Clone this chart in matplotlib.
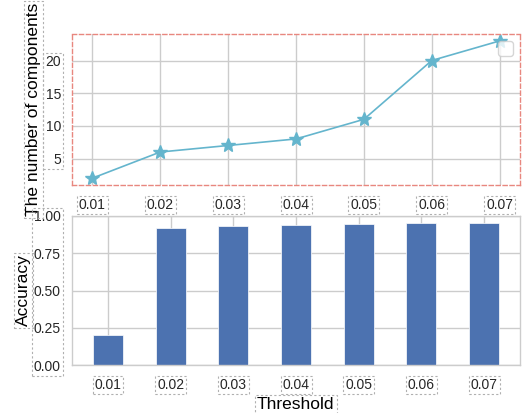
import matplotlib
matplotlib.use("Agg")
import matplotlib.pyplot as plt
from matplotlib.patches import Rectangle
from matplotlib.transforms import Bbox

thresholds = [0.01, 0.02, 0.03, 0.04, 0.05, 0.06, 0.07]
tick_labels = ["0.01", "0.02", "0.03", "0.04", "0.05", "0.06", "0.07"]
n_components = [2, 6, 7, 8, 11, 20, 23]
accuracy = [0.20, 0.92, 0.935, 0.94, 0.945, 0.95, 0.95]

plt.rcParams["font.family"] = ["Liberation Sans", "DejaVu Sans"]
plt.rcParams["text.color"] = "#262626"
plt.rcParams["xtick.color"] = "#262626"
plt.rcParams["ytick.color"] = "#262626"

fig = plt.figure(figsize=(5.26, 4.13), dpi=100)
ax1 = fig.add_axes([0.1369, 0.552, 0.8517, 0.3656])
ax2 = fig.add_axes([0.1369, 0.1162, 0.8508, 0.3608])

grid_kw = dict(color="#cccccc", linewidth=1.0)
for ax in (ax1, ax2):
    ax.set_axisbelow(True)
    ax.grid(True, **grid_kw)
    ax.tick_params(length=0, labelsize=10, pad=9)
    ax.tick_params(axis="y", pad=8)

# top: number of components
ax1.plot(thresholds, n_components, "*-", color="#64b5cd", markersize=10, linewidth=1.2)
ax1.set_xticks(thresholds)
ax1.set_xticklabels(tick_labels)
ax1.set_yticks([5, 10, 15, 20])
ax1.set_ylabel("The number of components", fontsize=12.5, labelpad=3)
for s in ax1.spines.values():
    s.set_color("#e8877f")
    s.set_linestyle((0, (3, 2)))
    s.set_linewidth(1.0)
ax1.legend(handles=[], loc="upper right", borderpad=0.55, edgecolor="#cccccc")

# bottom: accuracy bars
pos = list(range(len(thresholds)))
ax2.bar(pos, accuracy, width=0.48, color="#4c72b0", edgecolor="white", linewidth=0.5)
ax2.set_xlim(-0.575, 6.565)
ax2.set_ylim(0, 1.0)
ax2.set_xticks(pos)
ax2.set_xticklabels(tick_labels)
ax2.set_yticks([0, 0.25, 0.5, 0.75, 1.0])
ax2.set_yticklabels(["0.00", "0.25", "0.50", "0.75", "1.00"])
ax2.set_xlabel("Threshold", fontsize=12.5, labelpad=4)
ax2.set_ylabel("Accuracy", fontsize=12.5, labelpad=2)
for s in ax2.spines.values():
    s.set_color("#cccccc")
    s.set_linewidth(1.0)

# dashed boxes around text elements
fig.canvas.draw()
r = fig.canvas.get_renderer()


def box(bb, pad=2):
    fig.patches.append(Rectangle((bb.x0 - pad, bb.y0 - pad), bb.width + 2 * pad, bb.height + 2 * pad,
                                 transform=None, fill=False, edgecolor="#b0b0b0",
                                 linewidth=0.8, linestyle=(0, (2, 2)), figure=fig))


for ax in (ax1, ax2):
    for t in ax.get_xticklabels():
        box(t.get_window_extent(r))
    box(Bbox.union([t.get_window_extent(r) for t in ax.get_yticklabels()]))
    box(ax.yaxis.label.get_window_extent(r))
box(ax2.xaxis.label.get_window_extent(r))

fig.savefig("out.png", dpi=100)
